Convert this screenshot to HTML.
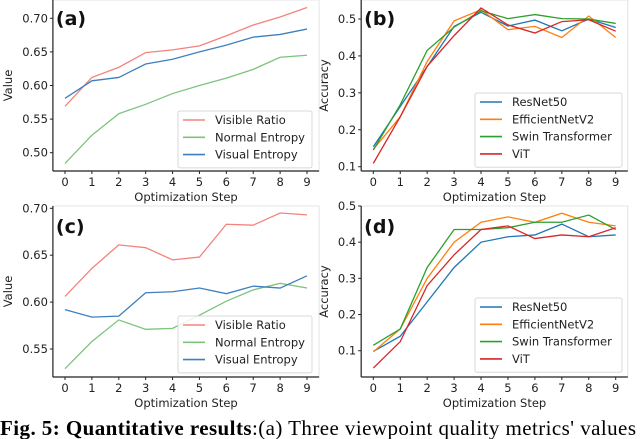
<!DOCTYPE html>
<html><head><meta charset="utf-8">
<style>
body{margin:0;background:#fff;}
svg{display:block;font-family:"DejaVu Sans","Liberation Sans",sans-serif;}
.cap{font-family:"Liberation Serif",serif;font-size:21px;}
</style></head>
<body>
<svg id="fig" width="640" height="439" viewBox="0 0 640 439">
<text class="cap" x="0" y="435" textLength="636" lengthAdjust="spacing"><tspan font-weight="bold">Fig. 5: Quantitative results</tspan>:(a) Three viewpoint quality metrics' values</text>
</svg>
<script>
const steps = [0,1,2,3,4,5,6,7,8,9];
const aSeriesNames = ["Visible Ratio","Normal Entropy","Visual Entropy"];
const aVisible = [0.569,0.612,0.627,0.649,0.653,0.659,0.674,0.690,0.702,0.716];
const aNormal = [0.484,0.526,0.558,0.572,0.588,0.600,0.611,0.624,0.642,0.645];
const aVisual = [0.581,0.607,0.612,0.632,0.639,0.650,0.660,0.672,0.676,0.684];
const aTicks = [0.50,0.55,0.60,0.65,0.70];
const cVisible = [0.606,0.636,0.661,0.658,0.645,0.648,0.683,0.682,0.695,0.693];
const cNormal = [0.529,0.558,0.581,0.571,0.572,0.586,0.601,0.613,0.620,0.615];
const cVisual = [0.592,0.584,0.585,0.610,0.611,0.615,0.609,0.617,0.615,0.628];
const cTicks = [0.55,0.60,0.65,0.70];
const modelNames = ["ResNet50","EfficientNetV2","Swin Transformer","ViT"];
const bResNet = [0.154,0.263,0.371,0.480,0.518,0.481,0.497,0.468,0.500,0.477];
const bEff = [0.147,0.235,0.385,0.495,0.525,0.471,0.480,0.450,0.508,0.450];
const bSwin = [0.145,0.268,0.415,0.478,0.522,0.501,0.512,0.501,0.500,0.488];
const bViT = [0.109,0.235,0.372,0.455,0.530,0.484,0.462,0.493,0.498,0.467];
const bTicks = [0.1,0.2,0.3,0.4,0.5];
const dResNet = [0.098,0.140,0.235,0.330,0.400,0.415,0.420,0.450,0.415,0.420];
const dEff = [0.097,0.160,0.300,0.400,0.455,0.470,0.455,0.480,0.455,0.445];
const dSwin = [0.115,0.160,0.330,0.435,0.435,0.440,0.455,0.455,0.475,0.435];
const dViT = [0.052,0.125,0.280,0.365,0.435,0.445,0.410,0.420,0.415,0.440];
const dTicks = [0.1,0.2,0.3,0.4,0.5];

const NS="http://www.w3.org/2000/svg";
const svg=document.getElementById('fig');
function el(tag,attrs,parent){const e=document.createElementNS(NS,tag);for(const k in attrs)e.setAttribute(k,attrs[k]);(parent||svg).appendChild(e);return e;}

function panel(cfg){
  const g=el('g',{});
  
  
  const xs=v=>cfg.x0+(v-0)*(cfg.x9-cfg.x0)/9;
  const ys=v=>cfg.yA+(v-cfg.vA)*(cfg.yB-cfg.yA)/(cfg.vB-cfg.vA);
  const L=xs(-0.45),R=xs(9.45);
  const fr=el('rect',{x:L,y:cfg.top,width:R-L,height:cfg.bottom-cfg.top,fill:'none',stroke:'#e4e4e4','stroke-width':1},g);
  
  
  const ya=el('line',{x1:L,y1:cfg.top,x2:L,y2:cfg.bottom,stroke:'#222','stroke-width':1.2},g);
  
  
  const xa=el('line',{x1:L,y1:cfg.bottom,x2:R,y2:cfg.bottom,stroke:'#222','stroke-width':1.2},g);
  
  
  steps.forEach(s=>{
    el('line',{x1:xs(s),y1:cfg.bottom,x2:xs(s),y2:cfg.bottom+3,stroke:'#222'},g);
    const t=el('text',{x:xs(s),y:cfg.bottom+15,'font-size':11.5,'text-anchor':'middle',fill:'#222'},g);
    t.textContent=s;
    
    
  });
  cfg.ticks.forEach(v=>{
    el('line',{x1:L-3,y1:ys(v),x2:L,y2:ys(v),stroke:'#222'},g);
    const t=el('text',{x:L-5,y:ys(v)+4,'font-size':11.5,'text-anchor':'end',fill:'#222'},g);
    t.textContent=v.toFixed(cfg.dec);
    
    
  });
  const xt=el('text',{x:(L+R)/2,y:cfg.bottom+30,'font-size':11.5,'text-anchor':'middle',fill:'#222'},g);
  xt.textContent='Optimization Step';
  
  
  const ymid=(cfg.top+cfg.bottom)/2;
  const yt=el('text',{x:cfg.ylx,y:ymid,'font-size':11.5,'text-anchor':'middle',fill:'#222',transform:`rotate(-90 ${cfg.ylx} ${ymid})`},g);
  yt.textContent=cfg.ylabel;
  
  
  cfg.series.forEach((s,i)=>{
    const p=el('polyline',{points:s.data.map((v,j)=>xs(steps[j])+','+ys(v)).join(' '),fill:'none',stroke:s.color,'stroke-width':1.3},g);
    
    
  });
  const pl=el('text',{x:L+3,y:cfg.top+cfg.plOff,'font-size':19,'font-weight':'bold',fill:'#111'},g);
  pl.textContent=cfg.label;
  
  
  const lg=el('g',{},g);
  
  
  el('rect',{x:cfg.lx,y:cfg.ly,width:cfg.lw,height:cfg.series.length*17.3+5,fill:'#fff','fill-opacity':0.85,stroke:'#d8d8d8',rx:2},lg);
  cfg.series.forEach((s,i)=>{
    const yy=cfg.ly+9+i*17.3;
    el('line',{x1:cfg.lx+5,y1:yy,x2:cfg.lx+27,y2:yy,stroke:s.color,'stroke-width':1.6},lg);
    const t=el('text',{x:cfg.lx+37,y:yy+4,'font-size':11.5,fill:'#222'},lg);
    t.textContent=s.name;
    
    
  });
}
const cR='#f4837d',cG='#7cc47c',cB='#3f7fbf';
const tB='#1f77b4',tO='#ff7f0e',tG='#2ca02c',tR='#d62728';
panel({name:'chart-a',label:'(a)',x0:65,x9:307,vA:0.70,yA:18.3,vB:0.50,yB:152.7,top:0,bottom:171,ticks:aTicks,dec:2,ylabel:'Value',ylx:12,plOff:25,lx:178,ly:111,lw:134,
 series:[{name:aSeriesNames[0],data:aVisible,color:cR},{name:aSeriesNames[1],data:aNormal,color:cG},{name:aSeriesNames[2],data:aVisual,color:cB}]});
panel({name:'chart-b',label:'(b)',x0:373.3,x9:615.7,vA:0.5,yA:19,vB:0.1,yB:166.7,top:0,bottom:171,ticks:bTicks,dec:1,ylabel:'Accuracy',ylx:328,plOff:25,lx:475,ly:93,lw:147,
 series:[{name:modelNames[0],data:bResNet,color:tB},{name:modelNames[1],data:bEff,color:tO},{name:modelNames[2],data:bSwin,color:tG},{name:modelNames[3],data:bViT,color:tR}]});
panel({name:'chart-c',label:'(c)',x0:65,x9:307,vA:0.70,yA:208.3,vB:0.55,yB:349,top:206,bottom:377,ticks:cTicks,dec:2,ylabel:'Value',ylx:12,plOff:27,lx:178,ly:316,lw:134,
 series:[{name:aSeriesNames[0],data:cVisible,color:cR},{name:aSeriesNames[1],data:cNormal,color:cG},{name:aSeriesNames[2],data:cVisual,color:cB}]});
panel({name:'chart-d',label:'(d)',x0:373.3,x9:615.7,vA:0.5,yA:206,vB:0.1,yB:350.7,top:206,bottom:377,ticks:dTicks,dec:1,ylabel:'Accuracy',ylx:328,plOff:27,lx:475,ly:298,lw:147,
 series:[{name:modelNames[0],data:dResNet,color:tB},{name:modelNames[1],data:dEff,color:tO},{name:modelNames[2],data:dSwin,color:tG},{name:modelNames[3],data:dViT,color:tR}]});
</script>
</body></html>
